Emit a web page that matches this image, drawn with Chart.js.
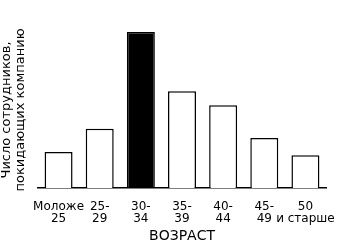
<!DOCTYPE html>
<html>
<head>
<meta charset="utf-8">
<script src="https://cdn.jsdelivr.net/npm/chart.js@4"></script>
<style>
  html, body { margin: 0; padding: 0; background: #fff; }
  #wrap { width: 364px; height: 249px; }
</style>
</head>
<body>
<div id="wrap"><canvas id="myChart" width="364" height="249"></canvas></div>
<script>
'use strict';

// Age groups
const ageGroups = [
  ['Моложе', '25'],
  ['25-', '29'],
  ['30-', '34'],
  ['35-', '39'],
  ['40-', '44'],
  ['45-', '49'],
  ['50', 'и старше']
];
// people leaving (relative height, peak = 100)
const leavers = [23, 38, 100, 62, 53, 32, 21];
const yTitle = ['Число сотрудников,', 'покидающих компанию'];
const xTitle = 'ВОЗРАСТ';

// black for the peak group, white for the rest
const fills = leavers.map(v => v === Math.max(...leavers) ? '#000' : '#fff');

const ctx = document.getElementById('myChart').getContext('2d');
const chart = new Chart(ctx, {
  type: 'bar',
  data: {
    labels: ageGroups,
    datasets: [{
      data: leavers,
      backgroundColor: fills,
      borderColor: '#000',
      borderWidth: 1.5,
      barPercentage: 0.68,
      categoryPercentage: 1
    }]
  },
  options: {
    responsive: false,
    animation: false,
    layout: { padding: { top: 32, right: 38, left: 0, bottom: 0 } },
    plugins: { legend: { display: false }, tooltip: { enabled: false } },
    scales: {
      x: {
        grid: { display: false },
        border: { display: true, color: '#000', width: 1.5 },
        ticks: {
          color: '#000',
          maxRotation: 0,
          autoSkip: false,
          padding: 5,
          font: { family: 'DejaVu Sans', size: 12, lineHeight: 1 }
        },
        title: {
          display: true,
          text: xTitle,
          color: '#000',
          padding: { top: 4, bottom: 4 },
          font: { family: 'DejaVu Sans', size: 14 }
        },
        afterFit: s => { s.height = 61; }
      },
      y: {
        min: 0,
        max: 100,
        grid: { display: false },
        border: { display: false },
        ticks: { display: false },
        title: {
          display: true,
          text: yTitle,
          color: '#000',
          padding: { top: 0, bottom: 0 },
          font: { family: 'DejaVu Sans', size: 13, lineHeight: 1.05 }
        },
        afterFit: s => { s.width = 38; }
      }
    }
  }
});
</script>
</body>
</html>
